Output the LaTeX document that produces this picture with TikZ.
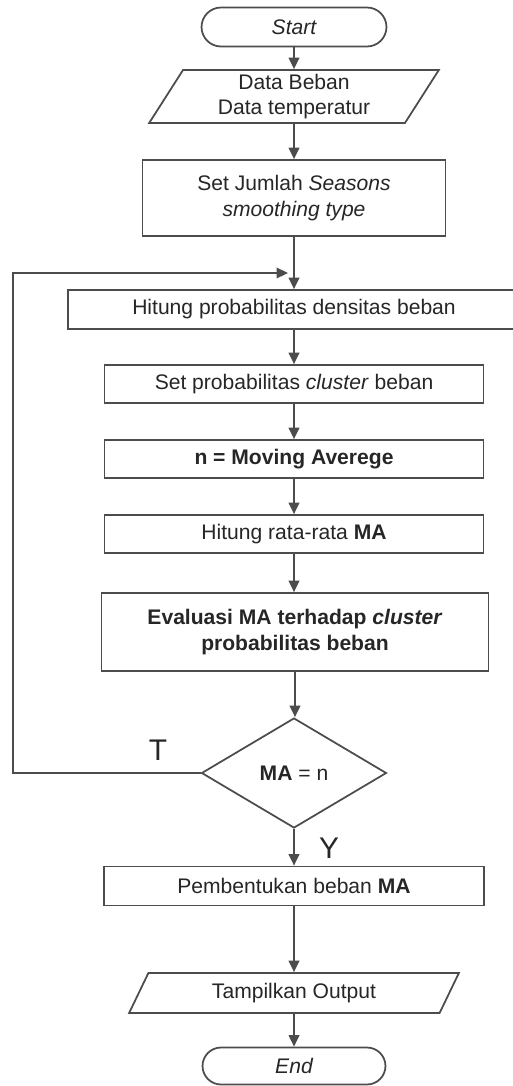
\documentclass[tikz,border=0pt]{standalone}
\usepackage{fontspec}
\setmainfont{Liberation Sans}
\usetikzlibrary{shapes.geometric,shapes.misc,arrows.meta}

\begin{document}
\begin{tikzpicture}
	 [x=0.02cm,y=-0.02cm,line width=1pt,draw=black!70,
	 every node/.style={draw=black!70,text=black!85,align=center,inner sep=2pt,font=\fontsize{12}{14.5}\selectfont},
	 proc/.style={rectangle},
	 term/.style={rounded rectangle,font=\fontsize{12}{14.5}\selectfont\itshape},
	 io/.style={trapezium,trapezium left angle=65,trapezium right angle=115,trapezium stretches=true},
	 cond/.style={diamond,inner sep=0pt},
	 lbl/.style={draw=none,font=\fontsize{17}{20}\selectfont},
	 arr/.style={draw=black!70,-{Triangle[length=6.5pt,width=6pt]}}]
	\useasboundingbox (0,0) rectangle (512,1086);

	  \node (start)[term,minimum width=3.84cm,minimum height=0.78cm] at (294,27) {Start};
	  \node (data)[io,minimum width=5.8cm,minimum height=1.06cm] at (294,96.5) {Data Beban\\Data temperatur};
	  \node (set)[proc,minimum width=6.06cm,minimum height=1.52cm] at (294,198) {Set Jumlah \textit{Seasons}\\\textit{smoothing type}};
	  \node (hit)[proc,minimum width=9.04cm,minimum height=0.78cm] at (294,309.5) {Hitung probabilitas densitas beban};
	  \node (prob)[proc,minimum width=7.58cm,minimum height=0.76cm] at (294,384) {Set probabilitas \textit{cluster} beban};
	  \node (nma)[proc,minimum width=7.58cm,minimum height=0.76cm] at (294,459) {\textbf{n = Moving Averege}};
	  \node (rata)[proc,minimum width=7.58cm,minimum height=0.76cm] at (294,534) {Hitung rata-rata \textbf{MA}};
	  \node (eval)[proc,minimum width=7.74cm,minimum height=1.56cm] at (295,632) {\textbf{Evaluasi MA terhadap \textit{cluster}}\\\textbf{probabilitas beban}};
	  \node (ma)[cond,minimum width=3.7cm,minimum height=2.2cm] at (294,773) {\textbf{MA} = n};
	  \node (bent)[proc,minimum width=7.6cm,minimum height=0.78cm] at (294,886) {Pembentukan beban \textbf{MA}};
	  \node (out)[io,trapezium left angle=67,trapezium right angle=113,minimum width=6.6cm,minimum height=0.8cm] at (294,993) {Tampilkan Output};
	  \node (end)[term,minimum width=3.8cm,minimum height=0.74cm] at (294,1066) {End};

	\node (t)[lbl] at (158,750) {T};
	\node (y)[lbl] at (329,848) {Y};

	\coordinate (lp) at (13,273);
	\coordinate (join) at (288,273);

	\foreach \from/\to in {start/data,data/set,set/hit,hit/prob,prob/nma,nma/rata,rata/eval,eval/ma,ma/bent,bent/out,out/end}
    \draw[arr] (\from.south) -- (\from.south |- \to.north);

	\draw[arr] (ma.west) -| (lp) -- (join);

\end{tikzpicture}
\end{document}
